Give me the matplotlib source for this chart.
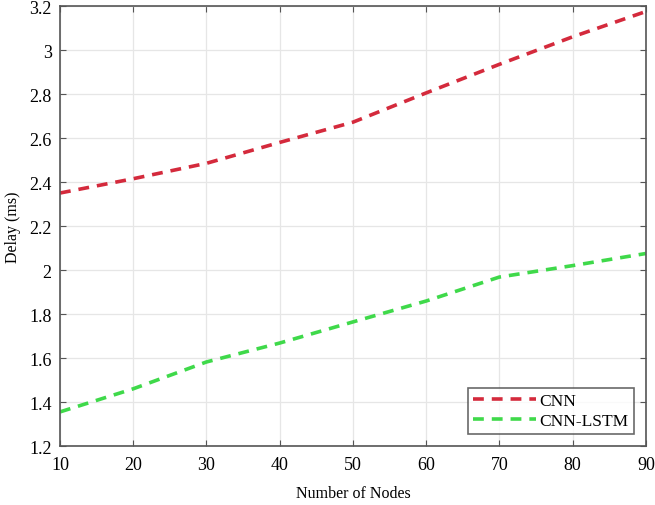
import matplotlib
matplotlib.use("Agg")
import matplotlib.pyplot as plt

nodes = [10, 20, 30, 40, 50, 60, 70, 80, 90]
cnn = [2.35, 2.415, 2.485, 2.58, 2.672, 2.805, 2.935, 3.06, 3.175]
cnn_lstm = [1.355, 1.46, 1.582, 1.668, 1.764, 1.859, 1.968, 2.02, 2.075]
xticks = [10, 20, 30, 40, 50, 60, 70, 80, 90]
yticks = [1.2, 1.4, 1.6, 1.8, 2.0, 2.2, 2.4, 2.6, 2.8, 3.0, 3.2]
ytick_labels = ["1.2", "1.4", "1.6", "1.8", "2", "2.2", "2.4", "2.6", "2.8", "3", "3.2"]

plt.rcParams['font.family'] = ['Liberation Serif', 'DejaVu Serif']

fig = plt.figure(figsize=(6.55, 5.06), dpi=100)
ax = fig.add_axes([0.0916, 0.1166, 0.8944, 0.8695])

ax.plot(nodes, cnn, linestyle=(0, (3, 2.2)), color='#d42a3c', linewidth=2.6, label='CNN')
ax.plot(nodes, cnn_lstm, linestyle=(0, (3, 2.2)), color='#3fd94a', linewidth=2.6, label='CNN-LSTM')

ax.set_xlim(10, 90)
ax.set_ylim(1.2, 3.2)
ax.set_xticks(xticks)
ax.set_yticks(yticks)
ax.set_yticklabels(ytick_labels)
ax.tick_params(direction='in', top=True, right=True, labelsize=13, length=4, color='#555555')
ax.tick_params(axis='x', pad=7)
ax.tick_params(axis='y', pad=6)
ax.grid(True, color='#e6e6e6', linewidth=0.9)
for s in ax.spines.values():
    s.set_color('#555555')
    s.set_linewidth(1.2)

ax.set_xlabel('Number of Nodes', fontsize=11.5, labelpad=9)
ax.set_ylabel('Delay (ms)', fontsize=11.5, labelpad=6)

leg = ax.legend(loc='lower right', fontsize=12.5, frameon=True, fancybox=False,
                edgecolor='#444444', borderpad=0.3, handlelength=3.6, handletextpad=0.2,
                labelspacing=0.2, borderaxespad=0.7)
leg.get_frame().set_linewidth(1.2)

fig.savefig('out.png', dpi=100)
